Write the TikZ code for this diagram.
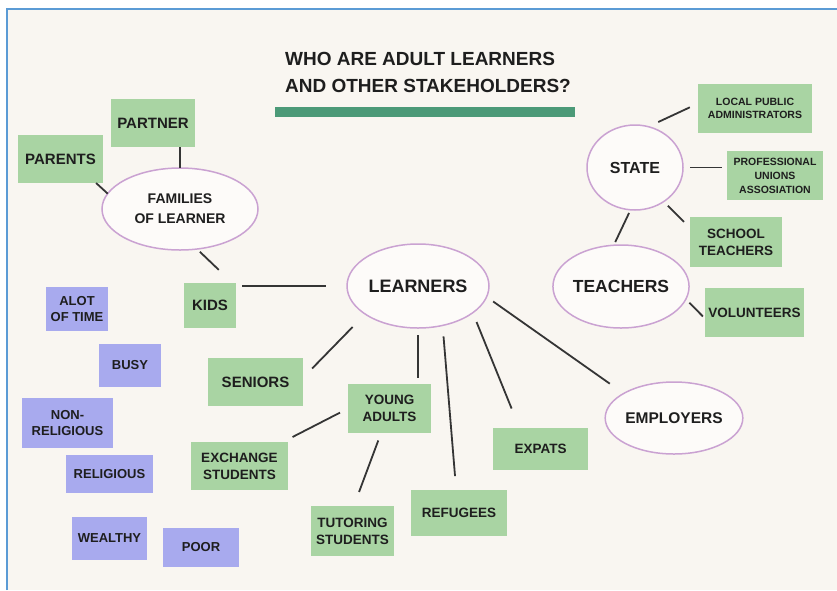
\documentclass[tikz,border=0pt]{standalone}
\usepackage{fontspec}
\setmainfont{Liberation Sans}
\usetikzlibrary{shapes.geometric}

\definecolor{paper}{RGB}{249,246,241}
\definecolor{frameblue}{RGB}{91,155,213}
\definecolor{boxgreen}{RGB}{169,212,163}
\definecolor{boxblue}{RGB}{168,170,238}
\definecolor{bargreen}{RGB}{76,154,120}
\definecolor{ringpink}{RGB}{202,162,210}
\definecolor{inkdark}{RGB}{30,30,30}

\begin{document}
\begin{tikzpicture}[x=1pt, y=-1pt,
    gbox/.style={rectangle, fill=boxgreen, inner sep=0pt, outer sep=0pt, align=center,
      text=inkdark, font=\fontsize{13.5}{17}\selectfont\bfseries},
    bbox/.style={gbox, fill=boxblue, font=\fontsize{13}{16.5}\selectfont\bfseries},
    ring/.style={ellipse, draw=ringpink, line width=1.5pt, fill=white!60!paper, inner sep=0pt,
      outer sep=0pt, align=center, text=inkdark},
    link/.style={draw=inkdark!90, line width=1.8pt}]
        \useasboundingbox (0,0) rectangle (837,590);
        \fill[white] (0,0) rectangle (837,590);
        \fill[paper] (7,9) rectangle (837,590);
        \draw[frameblue, line width=2.5pt] (7,590) -- (7,9) -- (837,9);

        \node[align=left, text=inkdark, font=\fontsize{19}{27}\selectfont\bfseries] (title) at (428,72.5)
            {WHO ARE ADULT LEARNERS\\AND OTHER STAKEHOLDERS?};
        \fill[bargreen] (275,107) rectangle (575,117);

        \node[ring, minimum width=156pt, minimum height=82pt, font=\fontsize{14}{20}\selectfont\bfseries] (families) at (180,209) {FAMILIES\\OF LEARNER};
        \node[ring, minimum width=142pt, minimum height=84pt, font=\fontsize{18}{20}\selectfont\bfseries] (learners) at (418,286) {LEARNERS};
        \node[ring, minimum width=96pt, minimum height=85pt, font=\fontsize{16}{20}\selectfont\bfseries] (state) at (635,167.5) {STATE};
        \node[ring, minimum width=128pt, minimum height=83pt, font=\fontsize{17.5}{20}\selectfont\bfseries] (teachers) at (621,286.5) {TEACHERS};
        \node[ring, minimum width=128pt, minimum height=72pt, font=\fontsize{15.5}{20}\selectfont\bfseries] (employers) at (674,418) {EMPLOYERS};

        \node[gbox, minimum width=84pt, minimum height=48pt, font=\fontsize{15}{18}\selectfont\bfseries] (partner) at (153,123) {PARTNER};
        \node[gbox, minimum width=85pt, minimum height=48pt, font=\fontsize{15}{18}\selectfont\bfseries] (parents) at (60.5,159) {PARENTS};
        \node[gbox, minimum width=52pt, minimum height=45pt, font=\fontsize{15}{18}\selectfont\bfseries] (kids) at (210,305.5) {KIDS};
        \node[gbox, minimum width=95pt, minimum height=48pt, font=\fontsize{15}{18}\selectfont\bfseries] (seniors) at (255.5,382) {SENIORS};
        \node[gbox, minimum width=83pt, minimum height=49pt] (young) at (389.5,408.5) {YOUNG\\ADULTS};
        \node[gbox, minimum width=97pt, minimum height=48pt] (exchange) at (239.5,466) {EXCHANGE\\STUDENTS};
        \node[gbox, minimum width=83pt, minimum height=50pt] (tutoring) at (352.5,531) {TUTORING\\STUDENTS};
        \node[gbox, minimum width=96pt, minimum height=46pt] (refugees) at (459,513) {REFUGEES};
        \node[gbox, minimum width=95pt, minimum height=42pt] (expats) at (540.5,449) {EXPATS};
        \node[gbox, minimum width=114pt, minimum height=49pt, font=\fontsize{10.5}{13.5}\selectfont\bfseries] (localadmin) at (755,108.5) {LOCAL PUBLIC\\ADMINISTRATORS};
        \node[gbox, minimum width=96pt, minimum height=49pt, font=\fontsize{10.5}{14}\selectfont\bfseries] (unions) at (775,175.5) {PROFESSIONAL\\UNIONS\\ASSOSIATION};
        \node[gbox, minimum width=92pt, minimum height=50pt] (school) at (736,242) {SCHOOL\\TEACHERS};
        \node[gbox, minimum width=99pt, minimum height=49pt] (volunteers) at (754.5,312.5) {VOLUNTEERS};

        \node[bbox, minimum width=62pt, minimum height=44pt] (alot) at (77,309) {ALOT\\OF TIME};
        \node[bbox, minimum width=62pt, minimum height=43pt] (busy) at (130,365.5) {BUSY};
        \node[bbox, minimum width=91pt, minimum height=50pt] (nonrel) at (67.5,423) {NON-\\RELIGIOUS};
        \node[bbox, minimum width=87pt, minimum height=38pt] (religious) at (109.5,474) {RELIGIOUS};
        \node[bbox, minimum width=75pt, minimum height=43pt] (wealthy) at (109.5,538.5) {WEALTHY};
        \node[bbox, minimum width=76pt, minimum height=39pt] (poor) at (201,547.5) {POOR};

        \draw[link] (partner.south -| families.north) -- (families.north);
        \draw[link] (parents.-34) -- (families.168);
        \draw[link, shorten <=4pt, shorten >=19pt] (families.-67) -- (kids.45);
        \draw[link, shorten <=6pt, shorten >=21pt] (learners.west -| kids.east) -- (learners.west);
        \draw[link, shorten <=18pt, shorten >=13pt] (learners.208) -- (seniors.5);
        \draw[link, shorten <=7pt, shorten >=6pt] (learners.south) -- (learners.south |- young.north);
        \draw[link, shorten <=9pt, shorten >=11pt] (young.west) -- (exchange.29);
        \draw[link, shorten <=8pt, shorten >=15pt] (young.251) -- (tutoring.87);
        \draw[link, shorten <=11pt, shorten >=14pt] (learners.-58) -- (refugees.97);
        \draw[link, shorten <=10pt, shorten >=21pt] (learners.-26) -- (expats.135);
        \draw[link, shorten <=8pt, shorten >=17pt] (learners.-9) -- (employers.154);
        \draw[link, shorten <=11pt, shorten >=9pt] (state.72) -- (localadmin.175);
        \draw[link, shorten <=7pt, shorten >=5pt] (state.east) -- (state.east -| unions.west);
        \draw[link, shorten <=6pt, shorten >=8.5pt] (state.-50) -- (school.163);
        \draw[link, shorten <=3.5pt, shorten >=3.5pt] (state.264) -- (teachers.100);
        \draw[link, shorten <=5pt, shorten >=3pt] (teachers.-11) -- (volunteers.187);
    \end{tikzpicture}
\end{document}
